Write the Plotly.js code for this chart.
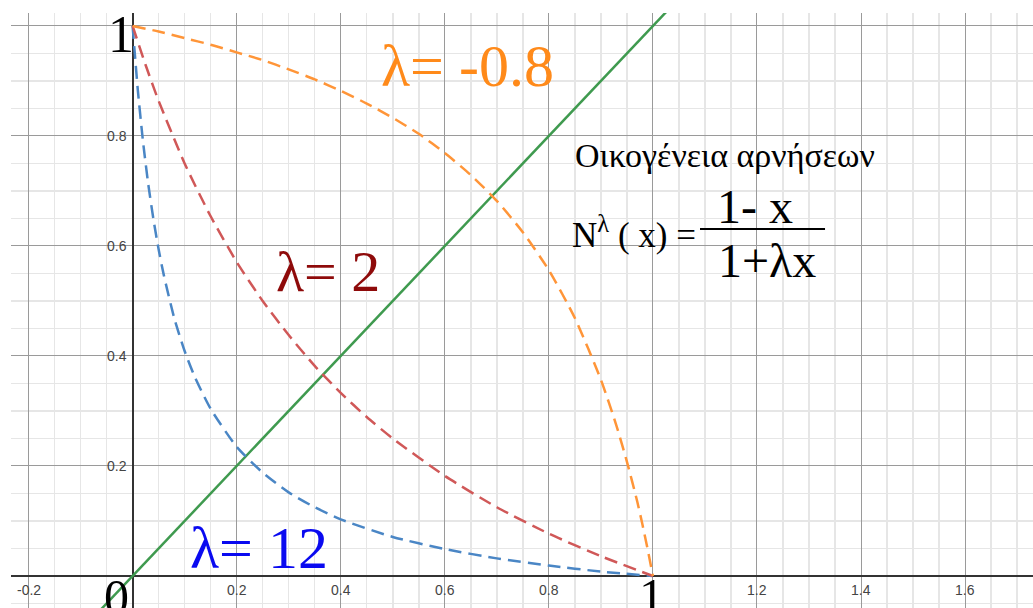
<!DOCTYPE html>
<html>
<head>
<meta charset="utf-8">
<script src="https://cdn.plot.ly/plotly-3.0.1.min.js"></script>
<style>
  html, body { margin: 0; padding: 0; background: #fff; }
  #plot { width: 1033px; height: 608px; }
</style>
</head>
<body>
<div id="plot"></div>
<script>
// Family of negations N(x) = (1 - x) / (1 + λx), sampled points per λ
const xNeg08 = [0, 0.05, 0.1, 0.15, 0.2, 0.25, 0.3, 0.35, 0.4, 0.45, 0.5, 0.55, 0.6, 0.65, 0.7, 0.75, 0.8, 0.85, 0.9, 0.93, 0.95, 0.97, 0.98, 0.99, 1];
const yNeg08 = [1, 0.990, 0.978, 0.966, 0.952, 0.938, 0.921, 0.903, 0.882, 0.859, 0.833, 0.804, 0.769, 0.729, 0.682, 0.625, 0.556, 0.469, 0.357, 0.273, 0.208, 0.135, 0.093, 0.048, 0];

const xLam2 = [0, 0.025, 0.05, 0.1, 0.15, 0.2, 0.25, 0.3, 0.35, 0.4, 0.45, 0.5, 0.6, 0.7, 0.8, 0.9, 1];
const yLam2 = [1, 0.929, 0.864, 0.75, 0.654, 0.571, 0.5, 0.438, 0.382, 0.333, 0.289, 0.25, 0.182, 0.125, 0.077, 0.036, 0];

const xLam12 = [0, 0.01, 0.02, 0.03, 0.04, 0.05, 0.06, 0.08, 0.1, 0.12, 0.15, 0.2, 0.25, 0.3, 0.35, 0.4, 0.5, 0.6, 0.7, 0.8, 0.9, 1];
const yLam12 = [1, 0.884, 0.79, 0.713, 0.649, 0.594, 0.547, 0.469, 0.409, 0.361, 0.304, 0.235, 0.188, 0.152, 0.125, 0.103, 0.071, 0.049, 0.032, 0.019, 0.008, 0];

// Diagonal y = x
const xDiag = [-0.07, 1.05];
const yDiag = [-0.07, 1.05];

// Axis tick labels drawn beside the axes
const xTickVals = [-0.2, 0.2, 0.4, 0.6, 0.8, 1.2, 1.4, 1.6];
const xTickText = ['-0.2', '0.2', '0.4', '0.6', '0.8', '1.2', '1.4', '1.6'];
const yTickVals = [0.2, 0.4, 0.6, 0.8];
const yTickText = ['0.2', '0.4', '0.6', '0.8'];

const serif = 'Liberation Serif, Times New Roman, serif';
const sans = 'Liberation Sans, Arial, sans-serif';
const dash = '13px,7px';

const traces = [
  { x: xDiag, y: yDiag, mode: 'lines', line: { color: '#3f9a4f', width: 2.5 }, hoverinfo: 'skip' },
  { x: xLam12, y: yLam12, mode: 'lines', line: { color: '#4a86c5', width: 2.5, dash: dash, shape: 'spline', smoothing: 0.6 } },
  { x: xLam2, y: yLam2, mode: 'lines', line: { color: '#d05858', width: 2.5, dash: dash, shape: 'spline', smoothing: 0.6 } },
  { x: xNeg08, y: yNeg08, mode: 'lines', line: { color: '#ff9538', width: 2.5, dash: dash, shape: 'spline', smoothing: 0.6 } }
];

const annotations = [];
xTickVals.forEach((v, i) => annotations.push({
  x: v, y: 0, xref: 'x', yref: 'y', text: xTickText[i], showarrow: false,
  xanchor: 'center', yanchor: 'top', yshift: -4,
  font: { family: sans, size: 14, color: '#444' }
}));
yTickVals.forEach((v, i) => annotations.push({
  x: 0, y: v, xref: 'x', yref: 'y', text: yTickText[i], showarrow: false,
  xanchor: 'right', yanchor: 'middle', xshift: -4,
  font: { family: sans, size: 14, color: '#444' }
}));

function label(x, y, text, size, color, xanchor) {
  annotations.push({
    x: x, y: y, xref: 'x', yref: 'y', text: text, showarrow: false,
    xanchor: xanchor || 'center', yanchor: 'middle',
    font: { family: serif, size: size, color: color }
  });
}

label(-0.022, 0.984, '1', 52, '#000');
label(-0.030, -0.038, '0', 50, '#000');
label(0.997, -0.036, '1', 50, '#000');

label(0.643, 0.927, 'λ= -0.8', 60, '#ff8a1a');
label(0.375, 0.553, 'λ= 2', 58, '#8e0a0a');
label(0.243, 0.051, 'λ= 12', 60, '#0a0af0');

label(1.139, 0.765, 'Οικογένεια αρνήσεων', 34, '#000');
label(0.8407, 0.625, 'N<sup>λ</sup> ( x) =', 35, '#000', 'left');
label(1.196, 0.671, '1- x', 48, '#000');
label(1.220, 0.5745, '1+λx', 48, '#000');

const shapes = [{
  type: 'line', xref: 'x', yref: 'y',
  x0: 1.0905, x1: 1.3308, y0: 0.631, y1: 0.631,
  line: { color: '#000', width: 2 }
}];

const axisCommon = {
  showticklabels: false, ticks: '',
  showgrid: true, gridcolor: '#9a9a9a', gridwidth: 1,
  zeroline: true, zerolinecolor: '#333', zerolinewidth: 2,
  showline: false, dtick: 0.2, tick0: 0,
  minor: { dtick: 0.05, tick0: 0, showgrid: true, gridcolor: '#e6e6e6', gridwidth: 1.5 }
};

const layout = {
  width: 1033, height: 608,
  margin: { l: 11, r: 0, t: 13, b: 0, pad: 0 },
  paper_bgcolor: '#fff', plot_bgcolor: '#fff',
  showlegend: false,
  xaxis: Object.assign({ range: [-0.2337, 1.7305] }, axisCommon),
  yaxis: Object.assign({ range: [-0.0582, 1.0236] }, axisCommon),
  annotations: annotations,
  shapes: shapes
};

Plotly.newPlot('plot', traces, layout, { staticPlot: true, displayModeBar: false });
</script>
</body>
</html>
